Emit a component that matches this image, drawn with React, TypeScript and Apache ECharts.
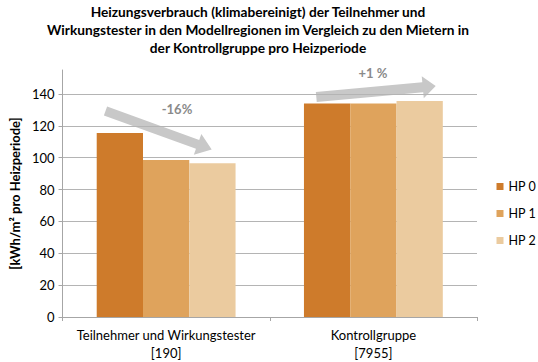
import React, { useEffect, useRef } from "react";
import * as echarts from "echarts";

const categories = ["Teilnehmer und Wirkungstester\n[190]", "Kontrollgruppe\n[7955]"];
const seriesNames = ["HP 0", "HP 1", "HP 2"];
const hp0 = [115.5, 134];
const hp1 = [98.5, 134];
const hp2 = [96.5, 135.5];
const colors = ["#CE7B2B", "#DFA35C", "#EBCB9F"];
const yTicks = [0, 20, 40, 60, 80, 100, 120, 140];
const changeLabels = ["-16%", "+1 %"];
const titleText =
  "Heizungsverbrauch (klimabereinigt) der Teilnehmer und\nWirkungstester in den Modellregionen im Vergleich zu den Mietern in\nder Kontrollgruppe pro Heizperiode";

const FONT = "Lato";

function arrowPoints(
  x1: number, y1: number, x2: number, y2: number,
  shaftW: number, headW: number, headL: number
): number[][] {
  const dx = x2 - x1, dy = y2 - y1;
  const len = Math.sqrt(dx * dx + dy * dy);
  const ux = dx / len, uy = dy / len;
  const nx = -uy, ny = ux;
  const bx = x2 - ux * headL, by = y2 - uy * headL;
  const s = shaftW / 2, h = headW / 2;
  return [
    [x1 + nx * s, y1 + ny * s],
    [bx + nx * s, by + ny * s],
    [bx + nx * h, by + ny * h],
    [x2, y2],
    [bx - nx * h, by - ny * h],
    [bx - nx * s, by - ny * s],
    [x1 - nx * s, y1 - ny * s],
  ];
}

export default function App() {
  const ref = useRef<HTMLDivElement>(null);
  useEffect(() => {
    if (!ref.current) return;
    const chart = echarts.init(ref.current, undefined, { renderer: "svg" });
    const data = [hp0, hp1, hp2];
    chart.setOption({
      animation: false,
      textStyle: { fontFamily: FONT },
      grid: { left: 52, right: 61, top: 70, bottom: 44, containLabel: false },
      legend: {
        orient: "vertical",
        right: 2,
        top: 180,
        padding: 0,
        itemWidth: 7,
        itemHeight: 7,
        itemGap: 14,
        icon: "rect",
        textStyle: { fontFamily: FONT, fontSize: 12.5, color: "#000", lineHeight: 13 },
        data: seriesNames,
      },
      xAxis: {
        type: "category",
        data: categories,
        axisLine: { lineStyle: { color: "#A6A6A6", width: 1 } },
        axisTick: { show: true, length: 4, lineStyle: { color: "#A6A6A6" } },
        axisLabel: {
          color: "#000",
          fontFamily: FONT,
          fontSize: 13,
          lineHeight: 18,
          margin: 9,
          interval: 0,
        },
      },
      yAxis: {
        type: "value",
        min: 0,
        max: 155,
        interval: 20,
        name: "[kWh/m² pro Heizperiode]",
        nameLocation: "middle",
        nameRotate: 90,
        nameGap: 40,
        nameTextStyle: { fontFamily: FONT, fontSize: 13, fontWeight: "bold", color: "#000" },
        axisLine: { show: true, lineStyle: { color: "#A6A6A6", width: 1 } },
        axisTick: { show: true, length: 4, lineStyle: { color: "#A6A6A6" } },
        axisLabel: {
          color: "#000",
          fontFamily: FONT,
          fontSize: 13,
          margin: 8,
          showMaxLabel: false,
          formatter: (v: number) => (yTicks.indexOf(v) >= 0 ? String(v) : ""),
        },
        splitLine: { show: true, showMaxLine: false, lineStyle: { color: "#B4B4B4", width: 1 } },
      },
      series: seriesNames.map((name, i) => ({
        name,
        type: "bar",
        data: data[i],
        barGap: "0%",
        barCategoryGap: "33%",
        itemStyle: { color: colors[i] },
      })),
      graphic: [
        {
          type: "text",
          x: 258,
          y: 2,
          style: {
            text: titleText,
            align: "center",
            verticalAlign: "top",
            font: `bold 13.7px ${FONT}`,
            lineHeight: 18,
            fill: "#000",
          },
        },
        {
          type: "polygon",
          shape: { points: arrowPoints(105.5, 111, 211.7, 149.5, 9.5, 22, 15) },
          style: { fill: "#C8C8C8" },
        },
        {
          type: "polygon",
          shape: { points: arrowPoints(316.3, 97, 435.7, 86, 10, 22, 13) },
          style: { fill: "#C8C8C8" },
        },
        {
          type: "text",
          x: 177,
          y: 109,
          style: {
            text: changeLabels[0],
            align: "center",
            verticalAlign: "middle",
            font: `bold 13px ${FONT}`,
            fill: "#8A8A8A",
          },
        },
        {
          type: "text",
          x: 373,
          y: 73,
          style: {
            text: changeLabels[1],
            align: "center",
            verticalAlign: "middle",
            font: `bold 13px ${FONT}`,
            fill: "#8A8A8A",
          },
        },
      ],
    });
    return () => chart.dispose();
  }, []);
  return (
    <div
      ref={ref}
      style={{ position: "absolute", left: 0, top: 0, width: 538, height: 362 }}
    />
  );
}
